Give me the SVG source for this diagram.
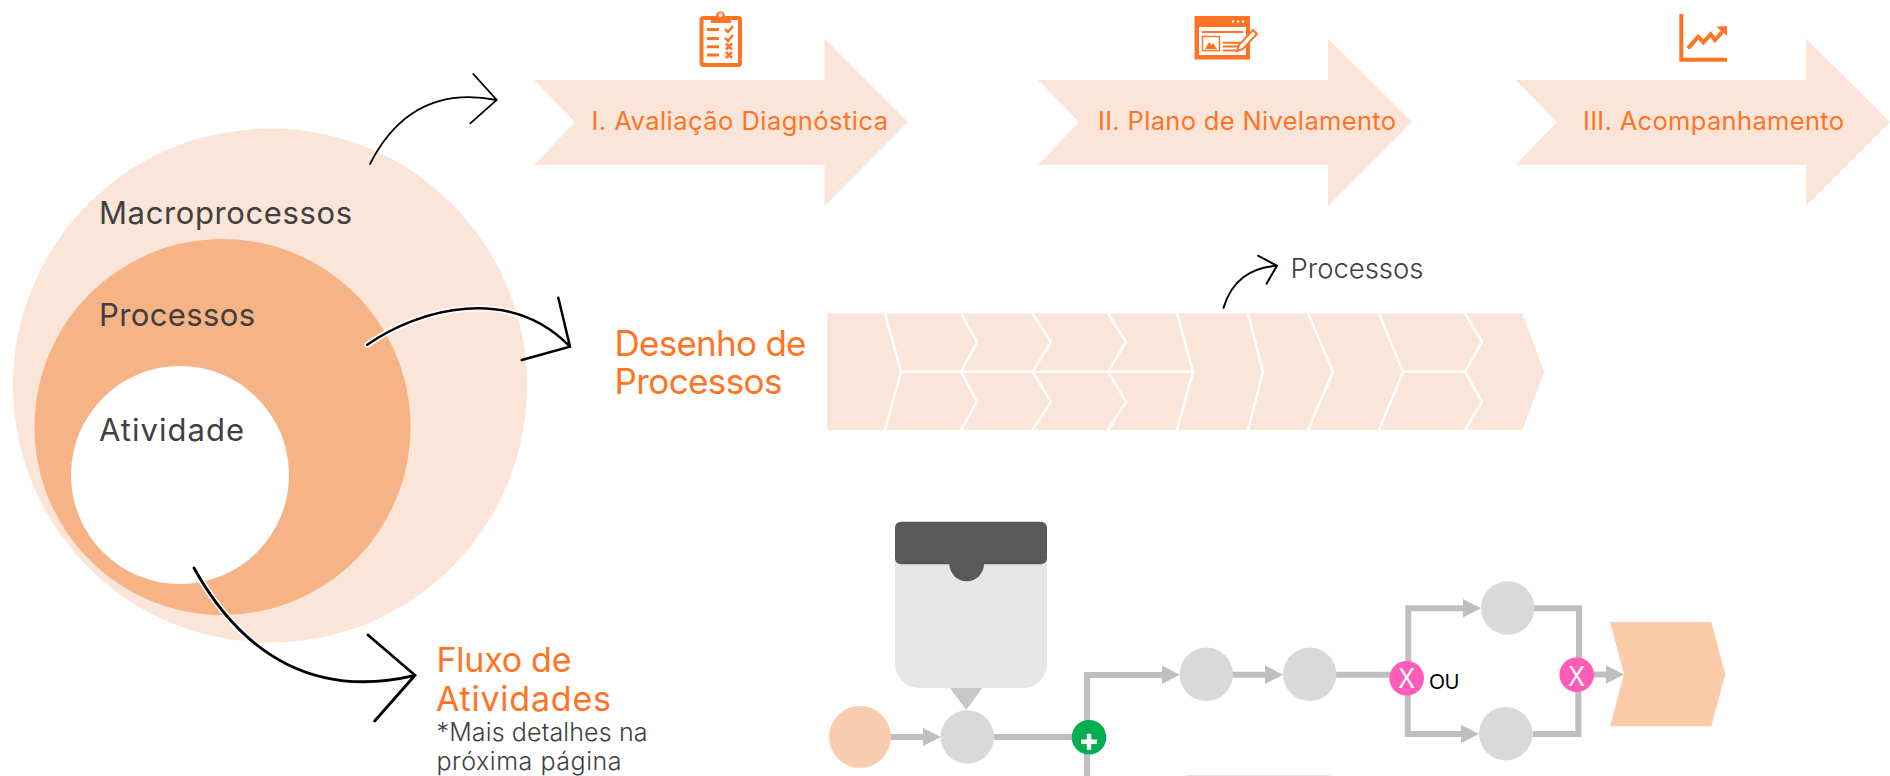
<svg xmlns="http://www.w3.org/2000/svg" width="1890" height="776" viewBox="0 0 1890 776">
<style>
text{font-family:"Inter","Noto Sans",sans-serif}
.o{fill:#ff7424}
.d{fill:#404040}
.pale{fill:#fbe5d8}
.gn{fill:#d9d9d9}
.gl{fill:none;stroke:#bfbfbf;stroke-width:6}
.gh{fill:#bfbfbf}
.ic{fill:none;stroke:#ff7424;stroke-width:4}
.ln{fill:none;stroke:#fff;stroke-width:2.500}
.cv{fill:none;stroke:#000;stroke-linecap:round;stroke-linejoin:miter}
.ha{fill:none;stroke:#fff;stroke-linecap:round}
.x{fill:#fff;font-family:"Noto Sans",sans-serif;font-size:27px;text-anchor:middle}
</style>
<g id="circles">
<circle cx="270" cy="385.5" r="257" class="pale"/>
<circle cx="222.5" cy="427" r="188" fill="#f5b386"/>
<circle cx="180" cy="475" r="109" fill="#fff"/>
<text x="99" y="224" class="d" font-size="31" textLength="253" lengthAdjust="spacing">Macroprocessos</text>
<text x="99" y="326" class="d" font-size="31" textLength="156" lengthAdjust="spacing">Processos</text>
<text x="99" y="441" class="d" font-size="31" textLength="145" lengthAdjust="spacing">Atividade</text>
</g>
<g id="macro-1">
<polygon class="pale" points="534,80 824.5,80 824.5,38.5 908,122 824.5,206 824.5,165 534,165 575,122"/>
<text x="591.500" y="130" class="o" font-size="25.500" textLength="296.500" lengthAdjust="spacing">I. Avaliação Diagnóstica</text>
<g id="icon-clipboard">
<rect x="701.5" y="18" width="38.5" height="47" rx="2" class="ic"/>
<path d="M711 16h5a4.500 4.500 0 0 1 9 0h6v7h-20z" fill="#ff7424"/>
<circle cx="720.500" cy="15" r="2" fill="#fff"/>
<path d="M707 29.500h12M707 38.500h12M707 46.700h12M707 55h12" fill="none" stroke="#ff7424" stroke-width="3"/>
<path d="M725 29l3 3 5-6M725 38l3 3 5-6" fill="none" stroke="#ff7424" stroke-width="2.500"/>
<path d="M726 43.500l6 6M732 43.500l-6 6M726 52l6 6M732 52l-6 6" fill="none" stroke="#ff7424" stroke-width="2.500"/>
</g>
</g>
<g id="macro-2">
<polygon class="pale" points="1038,80 1328,80 1328,38.500 1412,122 1328,206 1328,165 1038,165 1079,122"/>
<text x="1098" y="130" class="o" font-size="25.500" textLength="298" lengthAdjust="spacing">II. Plano de Nivelamento</text>
<g id="icon-browser">
<rect x="1194.500" y="16" width="55.500" height="43.500" fill="#ff7424"/>
<rect x="1199" y="27" width="47" height="28" fill="#fff"/>
<circle cx="1233" cy="21.500" r="1.200" fill="#fff"/><circle cx="1238" cy="21.500" r="1.200" fill="#fff"/><circle cx="1243" cy="21.500" r="1.200" fill="#fff"/>
<path d="M1202 32h41M1223 42.700h18M1223 46.500h16M1223 50.500h13" fill="none" stroke="#ff7424" stroke-width="2"/>
<rect x="1202.500" y="36.500" width="17" height="14" fill="none" stroke="#ff7424" stroke-width="1.500"/>
<path d="M1205 49l4-7 2.500 3 1.500-2 4 6z" fill="#ff7424"/>
<path d="M1237 51l2-6 14-15 4 4-14 15z" fill="#fff" stroke="#ff7424" stroke-width="2"/>
</g>
</g>
<g id="macro-3">
<polygon class="pale" points="1515.500,80 1806,80 1806,38.500 1890,122 1806,206 1806,165 1515.500,165 1557,122"/>
<text x="1583" y="130" class="o" font-size="25.500" textLength="261" lengthAdjust="spacing">III. Acompanhamento</text>
<g id="icon-chart">
<path d="M1681.300 14V59.700H1727" class="ic"/>
<path d="M1688 48.300l10.300-11.600 5 5.600 7.400-8 4.300 5.700 7-8" class="ic" stroke-width="3.500"/>
<polygon points="1716.300,26.700 1727,26 1727,36" fill="#ff7424"/>
</g>
</g>
<g id="processos-band">
<text x="614.500" y="356" class="o" font-size="35" textLength="192" lengthAdjust="spacing">Desenho de</text>
<text x="614.500" y="394" class="o" font-size="35" textLength="168" lengthAdjust="spacing">Processos</text>
<polygon class="pale" points="827,313.500 1522.500,313.500 1544,372 1522.500,430 827,430"/>
<path class="ln" d="M885 313.500L901 371.700 885 430M901 371.700H1193M961 313.500L977 342 961 371.700 977 401.700 961 430M1032.500 313.500L1051 342 1032.500 371.700 1051 401.700 1032.500 430M1108 313.500L1126 342 1108 371.700 1126 401.700 1108 430M1177 313.500L1193 371.700 1177 430M1248 313.500L1263 371.700 1248 430M1308 313.500L1333 371.700 1308 430M1379 313.500L1403 371.700 1379 430M1403 371.700H1465M1465 313.500L1482 342 1465 371.700 1482 401.700 1465 430"/>
<text x="1290.500" y="278" class="d" font-size="27.500" font-weight="300" textLength="133" lengthAdjust="spacing">Processos</text>
</g>
<g id="fluxo-label">
<text x="436.500" y="672" class="o" font-size="34" textLength="135" lengthAdjust="spacing">Fluxo de</text>
<text x="436" y="710.500" class="o" font-size="34" textLength="175" lengthAdjust="spacing">Atividades</text>
<text x="436.500" y="741" class="d" font-size="25" font-weight="300" textLength="211" lengthAdjust="spacing">*Mais detalhes na</text>
<text x="436.500" y="770" class="d" font-size="25" font-weight="300" textLength="185" lengthAdjust="spacing">próxima página</text>
</g>
<g id="connectors">
<path class="gl" d="M890 737H925"/><polygon class="gh" points="923,728 941,737 923,746"/>
<path class="gl" d="M994 737H1072"/>
<path class="gl" d="M1087 776V675H1165"/><polygon class="gh" points="1162,665.500 1179.500,674.700 1162,684"/>
<path class="gl" d="M1232 674.700H1268"/><polygon class="gh" points="1265,665.500 1283,674.700 1265,684"/>
<path class="gl" d="M1336 674.700H1395"/>
<path class="gl" d="M1408.300 665V608.300H1466"/><polygon class="gh" points="1463,599 1481,608.300 1463,617.500"/>
<path class="gl" d="M1407.700 690V734H1464"/><polygon class="gh" points="1461,724.800 1479,734 1461,743.300"/>
<path class="gl" d="M1534 608.300H1579V660"/>
<path class="gl" d="M1532.500 734H1578.300V690"/>
<path class="gl" d="M1593 674.500H1609"/><polygon class="gh" points="1606,665.300 1624,674.500 1606,683.700"/>
<polygon points="950,688 982.300,688 966.300,710" fill="#c8c8c8"/>
<path class="ha" stroke-width="6" d="M367.300 344.700C420 308 510 285 570 346.700"/>
<path class="ha" stroke-width="6" d="M194 568C245 660 320 698 415 675.300"/>
<path class="cv" stroke-width="1.800" d="M370 164C400 105 445 90 496.700 100M473.300 74L496.700 100 470.300 123.300"/>
<path class="cv" stroke-width="2.500" d="M367.300 344.700C420 308 510 285 570 346.700M558.300 297.700L570 346.700 521.700 360"/>
<path class="cv" stroke-width="2.800" d="M194 568C245 660 320 698 415 675.300M368 635L415 675.300 374.700 721"/>
<path class="cv" stroke-width="2" d="M1223.500 307.700C1232 280 1250 268 1277 265.700M1258 255.700L1277 265.700 1266.600 283.700"/>
</g>
<g id="callout">
<path d="M895 560H1047V664a24 24 0 0 1-24 24H919a24 24 0 0 1-24-24z" fill="#e6e6e6"/>
<rect x="895" y="521.700" width="152" height="42.600" rx="6" fill="#595959"/>
<path d="M949.400 564a17.300 17.300 0 0 0 34.600 0z" fill="#595959"/>
</g>
<g id="node-start"><circle cx="860" cy="737" r="31" fill="#f8cdae"/></g>
<g id="node-a"><circle cx="967.300" cy="737" r="26.700" class="gn"/></g>
<g id="gateway-and"><circle cx="1089" cy="737.300" r="17.300" fill="#00b050"/><path d="M1081 741.700h16M1089 733.700v16" stroke="#fff" stroke-width="4.500" fill="none"/></g>
<g id="node-b"><circle cx="1206.300" cy="674.300" r="26.700" class="gn"/></g>
<g id="node-c"><circle cx="1309.700" cy="674.300" r="26.700" class="gn"/></g>
<g id="gateway-or-1"><circle cx="1406.700" cy="678.300" r="17.300" fill="#ff5bb8"/><text x="1406.700" y="688.300" class="x">X</text></g>
<text x="1429.300" y="689" style="font-family:'Liberation Sans',sans-serif" font-size="21.500" fill="#000" textLength="30" lengthAdjust="spacingAndGlyphs">OU</text>
<g id="node-d"><circle cx="1507.700" cy="608" r="26.700" class="gn"/></g>
<g id="node-e"><circle cx="1505.700" cy="733.700" r="26.700" class="gn"/></g>
<g id="gateway-or-2"><circle cx="1576.700" cy="674.700" r="17.300" fill="#ff5bb8"/><text x="1576.700" y="685.700" class="x">X</text></g>
<g id="end"><polygon points="1610,622 1711.300,622 1725.300,674 1711.300,726.300 1610,726.300 1624,674" fill="#fccba8"/></g>
<g id="partial-node"><rect x="1185" y="775" width="147" height="30" rx="3" fill="#e6e6e6"/></g>
</svg>
